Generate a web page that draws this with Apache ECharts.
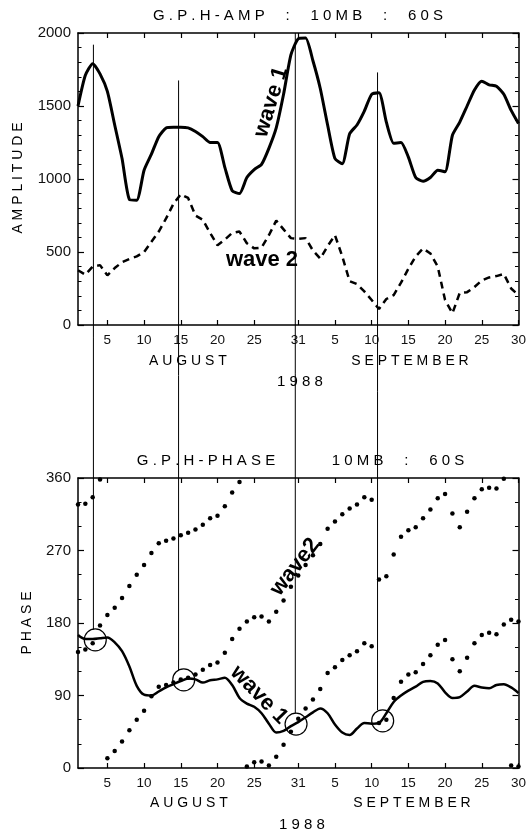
<!DOCTYPE html>
<html>
<head>
<meta charset="utf-8">
<script src="https://cdn.jsdelivr.net/npm/echarts@6/dist/echarts.min.js"></script>
<style>
html, body { margin: 0; padding: 0; background: #fff; }
#chart { width: 529px; height: 832px; }
</style>
</head>
<body>
<div id="chart"></div>
<script>
// day 1 = 1 August 1988 ... day 61 = 30 September 1988
var days = [1,2,3,4,5,6,7,8,9,10,11,12,13,14,15,16,17,18,19,20,21,22,23,24,25,26,27,28,29,30,
	31,32,33,34,35,36,37,38,39,40,41,42,43,44,45,46,47,48,49,50,51,52,53,54,55,56,57,58,59,60,61];

// amplitude (top panel)
var wave1Amp = [1500,1710,1790,1720,1600,1370,1140,860,855,1060,1170,1290,1350,1355,1355,1350,1325,1290,1250,1250,
	1080,920,900,1010,1065,1100,1210,1350,1580,1850,1960,1965,1810,1620,1370,1140,1105,1310,1370,1465,
	1580,1590,1390,1245,1250,1150,1010,985,1010,1060,1050,1300,1390,1500,1610,1670,1645,1635,1580,1470,1380];
var wave2Amp = [375,345,400,410,340,390,430,452,470,500,570,640,730,830,895,870,750,720,630,546,
	585,630,640,560,525,530,615,715,655,595,590,595,510,455,540,615,470,300,280,230,
	171,110,178,205,290,385,470,524,490,400,171,80,220,225,260,305,326,335,350,250,205];

// phase (bottom panel)
var wave1Phase = [165,160,160,161,162,156,145,126,102,91,90,95,100,104,108,111,110,106,109,110,
	112,103,87,80,76,68,55,44,46,52,57,63,69,74,68,54,44,41,49,56,
	55,56,68,82,90,96,101,107,108,105,94,87,88,95,102,100,99,103,104,100,93];
// wave 2 has two ridges, both plotted as dots
var wave2PhaseA = [144,147,155,177,190,199,211,226,240,252,267,279,282,285,289,292,296,302,310,313,
	325,342,355,2,7,8,3,14,29,45,61,74,85,98,118,125,134,140,145,155,
	151,56,60,87,107,116,119,129,140,153,159,135,120,137,155,165,168,166,178,184,182];
var wave2PhaseB = [327,328,336,358,12,21,33,47,60,71,89,101,103,106,110,112,116,122,128,131,
	143,160,173,182,187,188,182,194,208,225,239,252,264,278,297,306,315,322,327,336,
	333,234,238,265,287,295,299,310,321,335,340,316,299,318,335,346,348,347,359,3,2];

// x tick labels
var xTickDays = [5,10,15,20,25,31,36,41,46,51,56,61];
var xTickLabels = ['5','10','15','20','25','31','5','10','15','20','25','30'];

// marker lines: from the wave 1 amplitude peaks down to the circled phase points
var refDays = [3.1, 14.7, 30.6, 41.8];
var refAmpTop = [1920, 1675, 2000, 1730];
var refPhaseEnd = [172, 121, 68, 72];
var circleDays = [3.35, 15.4, 30.7, 42.5];
var circlePhase = [159, 109.5, 54.5, 58.6];

var FONT = '"Liberation Sans", Arial, sans-serif';

function spaced(s) {
	return s.split('').join(' ');
}

function pairs(xs, ys) {
	return xs.map(function (x, i) { return [x, ys[i]]; });
}

function xAxisDef(gridIndex, pos) {
	return {
		type: 'value', gridIndex: gridIndex, position: pos,
		min: 1, max: 61,
		axisLine: { onZero: false, lineStyle: { color: '#000', width: 1.5 } },
		axisTick: { inside: true, length: 5, customValues: xTickDays, lineStyle: { color: '#000', width: 1.2 } },
		axisLabel: {
			show: pos === 'bottom', customValues: xTickDays, margin: 8,
			fontSize: 13.5, fontFamily: FONT, color: '#111',
			formatter: function (v) { return xTickLabels[xTickDays.indexOf(v)]; }
		},
		splitLine: { show: false }
	};
}

function yAxisDef(gridIndex, pos, max, interval, minorSplit) {
	return {
		type: 'value', gridIndex: gridIndex, position: pos,
		min: 0, max: max, interval: interval,
		axisLine: { show: true, onZero: false, lineStyle: { color: '#000', width: 1.5 } },
		axisTick: { show: true, inside: true, length: 6, lineStyle: { color: '#000', width: 1.2 } },
		minorTick: { show: true, splitNumber: minorSplit, length: 3.5, lineStyle: { color: '#000', width: 1 } },
		axisLabel: {
			show: pos === 'left', margin: 7, fontSize: 15, fontFamily: FONT, color: '#111',
			formatter: function (v) { return String(v); }
		},
		splitLine: { show: false }
	};
}

function label(id, text, x, y, size, opts) {
	opts = opts || {};
	return {
		type: 'text', id: id, x: x, y: y, rotation: (opts.rot || 0) * Math.PI / 180, z: 10,
		style: {
			text: text, fill: '#000', align: 'center', verticalAlign: 'middle',
			fontSize: size, fontFamily: FONT, fontWeight: opts.bold ? 'bold' : 'normal'
		}
	};
}

var option = {
	animation: false,
	backgroundColor: '#fff',
	grid: [
		{ left: 78, right: 8, top: 33, height: 292 },
		{ left: 78, right: 8, top: 478, height: 290 }
	],
	xAxis: [
		xAxisDef(0, 'bottom'), xAxisDef(0, 'top'),
		xAxisDef(1, 'bottom'), xAxisDef(1, 'top')
	],
	yAxis: [
		yAxisDef(0, 'left', 2000, 500, 5), yAxisDef(0, 'right', 2000, 500, 5),
		yAxisDef(1, 'left', 360, 90, 3), yAxisDef(1, 'right', 360, 90, 3)
	],
	series: [
		{
			name: 'wave 1 amplitude', type: 'line', xAxisIndex: 0, yAxisIndex: 0,
			data: pairs(days, wave1Amp), showSymbol: false, smooth: 0.2,
			lineStyle: { color: '#000', width: 3, join: 'round' }
		},
		{
			name: 'wave 2 amplitude', type: 'line', xAxisIndex: 0, yAxisIndex: 0,
			data: pairs(days, wave2Amp), showSymbol: false,
			lineStyle: { color: '#000', width: 2.5, type: [7, 5] }
		},
		{
			name: 'wave 1 phase', type: 'line', xAxisIndex: 2, yAxisIndex: 2,
			data: pairs(days, wave1Phase), showSymbol: false, smooth: 0.3,
			lineStyle: { color: '#000', width: 2.5 }
		},
		{
			name: 'wave 2 phase', type: 'scatter', xAxisIndex: 2, yAxisIndex: 2,
			data: pairs(days, wave2PhaseA).concat(pairs(days, wave2PhaseB)),
			symbolSize: 4.5, itemStyle: { color: '#000', opacity: 1 }
		},
		{
			name: 'circles', type: 'scatter', xAxisIndex: 2, yAxisIndex: 2,
			data: pairs(circleDays, circlePhase), symbol: 'circle', symbolSize: 22,
			itemStyle: { color: 'rgba(0,0,0,0)', borderColor: '#000', borderWidth: 1.2, opacity: 1 }
		}
	],
	graphic: [
		label('t1', spaced('G.P.H-AMP  :  10MB  :  60S'), 298, 16, 15),
		label('t2a', spaced('G.P.H-PHASE'), 206, 461, 15),
		label('t2b', spaced('10MB  :  60S'), 398, 461, 15),
		label('ya', spaced('AMPLITUDE'), 18, 178, 14, { rot: 90 }),
		label('yp', spaced('PHASE'), 27, 623, 14, { rot: 90 }),
		label('m1', spaced('AUGUST'), 188, 361, 14),
		label('m2', spaced('SEPTEMBER'), 410, 361, 14),
		label('yr1', spaced('1988'), 300, 382, 15),
		label('m3', spaced('AUGUST'), 189, 803, 14),
		label('m4', spaced('SEPTEMBER'), 412, 803, 14),
		label('yr2', spaced('1988'), 302, 825, 15),
		label('w1a', 'wave 1', 271, 102, 22, { bold: true, rot: 73 }),
		label('w2a', 'wave 2', 262, 260, 22, { bold: true }),
		label('w2p', 'wave2', 295, 567, 22, { bold: true, rot: 52 }),
		label('w1p', 'wave 1', 259, 695, 22, { bold: true, rot: -46 })
	]
};

var chart = echarts.init(document.getElementById('chart'));
chart.setOption(option);

// marker lines span both panels, so place them through both panels' scales
var refGraphics = refDays.map(function (d, i) {
	var top = chart.convertToPixel({ xAxisIndex: 0, yAxisIndex: 0 }, [d, refAmpTop[i]]);
	var bot = chart.convertToPixel({ xAxisIndex: 2, yAxisIndex: 2 }, [d, refPhaseEnd[i]]);
	return {
		type: 'line', id: 'ref' + i, z: 1,
		shape: { x1: top[0], y1: top[1], x2: bot[0], y2: bot[1] },
		style: { stroke: '#000', lineWidth: 1 }
	};
});
chart.setOption({ graphic: refGraphics });
</script>
</body>
</html>
